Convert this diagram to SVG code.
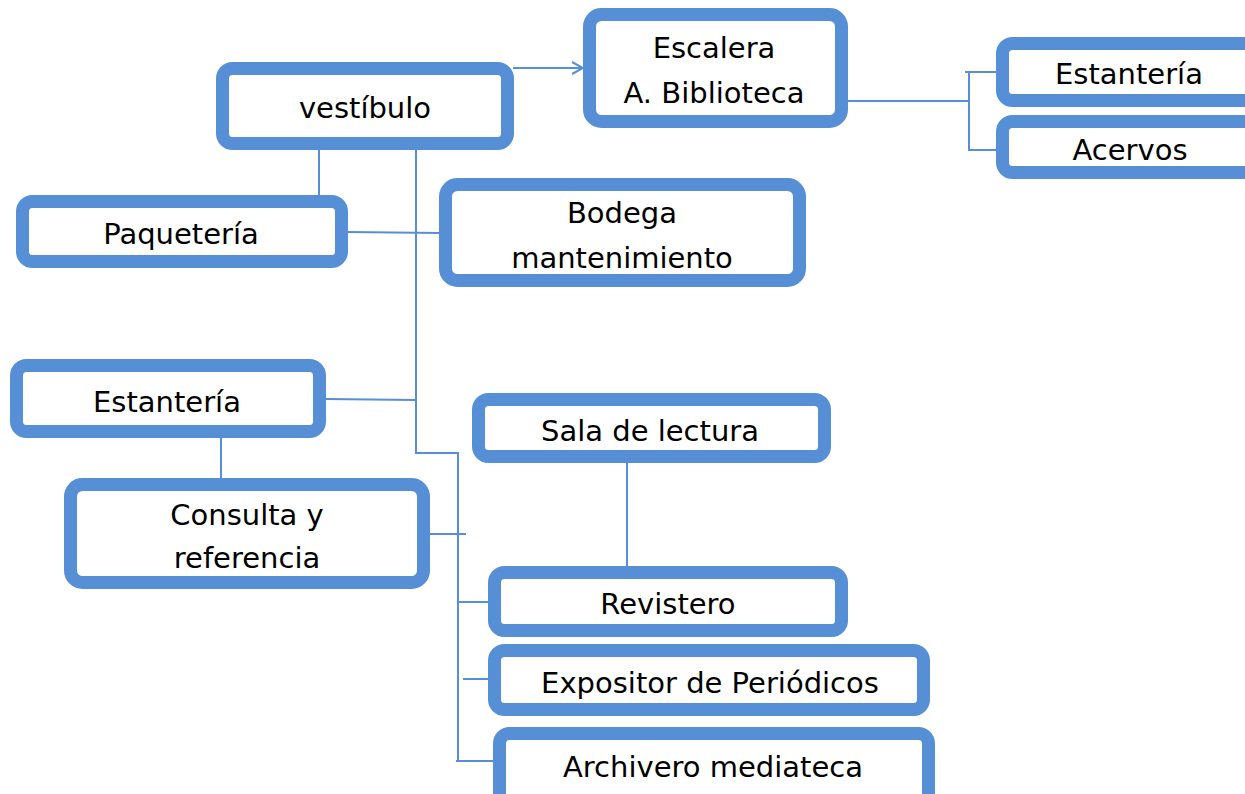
<svg xmlns="http://www.w3.org/2000/svg" width="1245" height="794" viewBox="0 0 1245 794">
<defs>
<style>
.box{fill:#fff;stroke:#568FD6;stroke-width:13}
.ln{fill:none;stroke:#568FD6;stroke-width:2}
text{font-family:"DejaVu Sans","Liberation Sans",sans-serif;font-size:29px;fill:#000;text-anchor:middle}
</style>
<marker id="arr" markerWidth="14" markerHeight="14" refX="12" refY="7" orient="auto" markerUnits="userSpaceOnUse">
<path d="M1,1 L12,7 L1,13" fill="none" stroke="#568FD6" stroke-width="2"/>
</marker>
</defs>
<rect width="1245" height="794" fill="#fff"/>
<g id="connectors">
<line class="ln" x1="513" y1="68" x2="583" y2="68" marker-end="url(#arr)"/>
<line class="ln" x1="319" y1="150" x2="319" y2="196"/>
<polyline class="ln" points="416,150 416,453 458,453 458,761"/>
<line class="ln" x1="347" y1="232" x2="440" y2="233"/>
<line class="ln" x1="326" y1="399" x2="416" y2="400"/>
<line class="ln" x1="430" y1="534" x2="466" y2="534"/>
<line class="ln" x1="458" y1="602" x2="489" y2="602"/>
<line class="ln" x1="463" y1="679" x2="489" y2="679"/>
<line class="ln" x1="456" y1="761" x2="494" y2="761"/>
<line class="ln" x1="627" y1="463" x2="627" y2="567"/>
<line class="ln" x1="221" y1="438" x2="221" y2="479"/>
<line class="ln" x1="847" y1="101" x2="969" y2="101"/>
<polyline class="ln" points="965,72 997,72"/>
<polyline class="ln" points="969,72 969,150 997,150"/>
</g>
<g id="vestibulo"><rect class="box" x="222.5" y="68.5" width="285" height="75" rx="10"/><text x="365" y="118">vestíbulo</text></g>
<g id="escalera"><rect class="box" x="589.5" y="14.5" width="252" height="107" rx="12"/><text x="714" y="58">Escalera</text><text x="714" y="103">A. Biblioteca</text></g>
<g id="estanteria-top"><rect class="box" x="1002.5" y="43.5" width="260" height="57" rx="10"/><text x="1129" y="84">Estantería</text></g>
<g id="acervos"><rect class="box" x="1002.5" y="121.5" width="260" height="51" rx="10"/><text x="1130" y="160">Acervos</text></g>
<g id="paqueteria"><rect class="box" x="22.5" y="201.5" width="319" height="60" rx="10"/><text x="181" y="244">Paquetería</text></g>
<g id="bodega"><rect class="box" x="445.5" y="184.5" width="354" height="96" rx="12"/><text x="622" y="223">Bodega</text><text x="622" y="268">mantenimiento</text></g>
<g id="estanteria-left"><rect class="box" x="16.5" y="365.5" width="303" height="66" rx="10"/><text x="167" y="412">Estantería</text></g>
<g id="consulta"><rect class="box" x="70.5" y="484.5" width="353" height="98" rx="12"/><text x="247" y="525">Consulta y</text><text x="247" y="568">referencia</text></g>
<g id="sala"><rect class="box" x="478.5" y="399.5" width="346" height="57" rx="10"/><text x="650" y="441">Sala de lectura</text></g>
<g id="revistero"><rect class="box" x="494.5" y="572.5" width="347" height="58" rx="10"/><text x="668" y="614">Revistero</text></g>
<g id="expositor"><rect class="box" x="494.5" y="650.5" width="429" height="59" rx="10"/><text x="710" y="693">Expositor de Periódicos</text></g>
<g id="archivero"><rect class="box" x="499.5" y="733.5" width="429" height="70" rx="10"/><text x="713" y="777">Archivero mediateca</text></g>
</svg>
